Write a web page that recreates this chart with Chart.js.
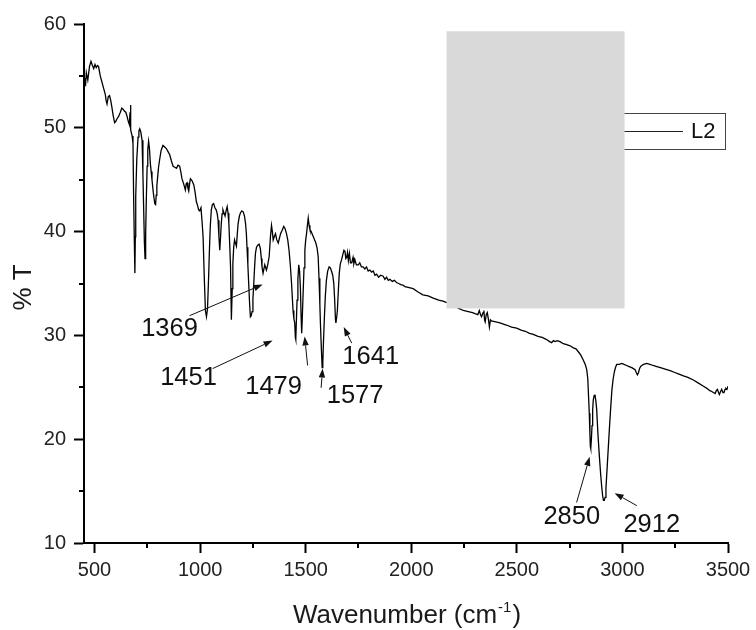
<!DOCTYPE html>
<html>
<head>
<meta charset="utf-8">
<script src="https://cdn.jsdelivr.net/npm/chart.js@4.4.1/dist/chart.umd.min.js"></script>
<style>
  html, body { margin: 0; padding: 0; background: #fff; }
  #wrap { width: 756px; height: 630px; position: relative; }
</style>
</head>
<body>
<div id="wrap"><canvas id="c"></canvas></div>
<script>
// ---- data ----
const wavenumbers = [
  453,457,461,468,476,483,490,496,502,508,514,519,527,535,543,551,555,559,565,571,577,582,588,595,600,607,614,622,629,635,642,648,654,660,665,668,670,672,678,682,685,688,691,693,695,700,706,710,714,719,725,729,733,736,739,742,745,749,752,756,760,764,768,772,778,785,789,792,795,799,803,808,815,824,830,840,848,856,864,872,880,888,895,903,909,914,922,930,934,938,942,946,950,954,962,970,976,982,988,993,998,1004,1009,1014,1019,1025,1030,1035,1040,1044,1048,1053,1058,1064,1070,1076,1081,1085,1089,1093,1097,1100,1104,1108,1113,1118,1123,1128,1132,1136,1140,1144,1148,1152,1155,1159,1163,1167,1172,1176,1180,1186,1191,1197,1204,1210,1215,1219,1222,1226,1230,1234,1238,1242,1246,1250,1254,1258,1262,1267,1273,1279,1285,1290,1293,
  1298,1306,1314,1320,1327,1333,1338,1342,1346,1351,1357,1363,1370,1376,1381,1388,1396,1402,1409,1415,1421,1427,1433,1437,1440,1444,1448,1451,1453,1456,1459,1463,1467,1471,1475,1478,1481,1484,1488,1492,1496,1500,1504,1508,1512,1516,1520,1526,1532,1540,1548,1554,1559,1563,1567,1570,1574,1578,1581,1584,1588,1593,1598,1604,1611,1617,1622,1628,1633,1637,1641,1643,1647,1650,1655,1659,1664,1670,1676,1681,1686,1690,1694,1698,1702,1707,1712,1718,1724,1728,1733,1740,1749,1756,1764,1772,1780,1788,1796,1804,1812,1820,1828,1836,1845,1855,1867,1875,1883,1891,1899,1910,1920,1930,1940,1950,1960,1970,1990,2009,2030,2055,2080,2104,2130,2150,2175,2200,2225,2246,2270,2290,2302,2315,2322,2328,2333,2340,2344,2347,2350,2355,2360,2365,2370,2375,2380,2400,2420,2450,2475,2499,2520,2540,2560,2578,2600,2620,2641,2655,2665,2673,2681,2692,2704,2720,2736,2752,2768,2780,2792,2803,2815,2824,2831,2836,2839,2843,2846,2848,2850,2853,2856,2859,2862,2866,2870,2874,2878,2884,2891,2897,2902,2906,2910,2914,2918,2922,2926,2932,2938,2944,2950,2956,2962,2967,2973,2985,2997,3008,3020,3032,3044,3052,3060,3066,3071,3076,3081,3086,3092,3100,3115,3130,3145,3163,3180,3195,3210,3226,3245,3265,3289,3310,3336,3360,3384,3400,3412,3423,3431,3439,3445,3450,3455,3459,3465,3470,3476,3481,3486,3490,3495,3500
];
const transmittance = [
  54.8,54.0,55.3,54.6,55.9,56.4,56.0,55.7,56.1,55.8,56.0,55.9,55.0,54.4,53.8,53.2,52.6,52.3,53.0,53.1,52.6,52.0,51.2,50.5,50.6,50.9,51.1,51.5,51.9,51.8,51.6,51.5,51.1,50.6,50.3,51.5,52.2,49.8,49.2,48.5,43.4,39.5,36.0,39.5,43.4,47.0,49.1,49.7,49.9,49.6,48.8,45.5,41.8,39.0,37.4,39.8,43.0,46.3,47.9,48.7,48.0,46.6,45.8,45.0,43.8,42.7,42.6,43.5,44.4,45.3,46.2,46.9,47.8,48.3,48.2,48.0,47.7,47.4,46.8,46.3,46.2,46.1,46.4,46.3,45.7,45.1,44.6,44.0,44.6,44.7,44.2,43.9,44.6,45.1,44.9,44.5,43.8,42.9,42.5,42.1,42.0,42.3,41.0,39.5,36.0,32.4,31.8,32.6,35.5,38.2,40.5,42.1,42.6,42.7,42.3,42.1,41.7,41.1,39.5,38.2,39.6,40.7,41.7,42.1,41.8,41.5,42.0,42.4,41.8,40.8,38.8,36.6,31.5,34.5,36.9,38.5,39.2,38.9,38.6,39.8,40.8,41.5,41.8,42.0,41.9,41.5,40.8,39.8,38.5,36.8,35.0,33.2,31.8,31.9,32.3,33.5,35.0,36.6,37.9,38.5,38.7,38.8,38.4,37.4,36.6,
  36.0,36.8,36.3,36.8,37.6,39.5,40.6,40.0,39.2,39.5,39.8,39.2,38.9,39.4,39.8,40.1,40.5,40.3,39.8,39.2,38.2,36.8,35.0,33.5,32.4,31.6,31.2,29.8,29.6,31.5,33.4,35.4,36.8,36.2,34.5,32.0,30.2,31.8,34.2,36.5,38.2,39.2,39.8,40.6,41.3,40.6,40.2,40.0,39.7,39.3,38.9,38.4,37.6,35.5,33.0,31.0,28.8,26.9,27.4,29.3,31.5,33.8,35.3,36.2,36.6,36.5,36.2,35.8,35.0,33.5,31.5,31.2,31.8,32.4,34.5,36.0,36.9,37.3,37.8,38.2,38.1,37.4,37.5,38.0,37.2,37.9,37.0,37.0,37.5,36.9,37.3,36.8,36.8,37.0,36.6,36.6,36.4,36.6,36.2,36.3,36.1,36.2,35.8,35.9,35.6,35.8,35.7,35.4,35.6,35.3,35.4,35.2,35.3,35.1,35.0,34.9,34.85,34.7,34.6,34.5,34.2,33.9,33.8,33.6,33.4,33.3,33.1,32.9,32.6,32.4,32.3,32.2,32.1,32.0,32.4,32.0,31.8,32.2,32.4,31.5,31.3,32.0,32.2,31.6,30.8,31.5,31.4,31.3,31.2,31.0,30.8,30.7,30.5,30.4,30.2,30.1,29.9,29.8,29.6,29.4,29.3,29.5,29.4,29.5,29.4,29.2,29.1,29.0,28.8,28.7,28.4,28.1,27.6,27.2,26.7,25.8,24.4,22.5,20.5,19.3,19.1,20.0,21.3,22.8,23.8,24.2,24.3,23.7,22.9,20.5,18.3,16.6,15.4,14.6,14.1,14.1,14.4,15.3,16.7,18.8,20.9,22.9,24.7,25.8,26.5,26.9,27.2,27.2,27.3,27.2,27.1,27.0,26.9,26.8,26.7,26.4,26.2,26.4,26.8,27.0,27.1,27.2,27.3,27.2,27.1,27.0,26.9,26.8,26.7,26.6,26.45,26.3,26.1,25.95,25.7,25.4,25.1,24.9,24.7,24.6,24.5,24.4,24.7,24.8,24.5,24.3,24.6,24.8,24.5,24.5,24.8,24.9,24.8,25.1
];
const seriesLabel = 'L2';
const xTickValues = [500, 1000, 1500, 2000, 2500, 3000, 3500];
const xMinorTickValues = [750, 1250, 1750, 2250, 2750, 3250];
const yTickValues = [10, 20, 30, 40, 50, 60];
const yMinorTickValues = [15, 25, 35, 45, 55];
const peakLabels = ['1369', '1451', '1479', '1577', '1641', '2850', '2912'];
const peakLabelAt = [[855, 30.6], [945, 25.9], [1348, 25.0], [1734, 24.2], [1808, 27.9], [2760, 12.5], [3139, 11.7]];
const arrowTail = [[950, 31.9], [1059, 26.8], [1509, 27.1], [1573, 24.95], [1718, 29.25], [2783, 13.9], [3068, 13.6]];
const arrowTip = [[1296, 34.9], [1343, 29.5], [1495, 29.9], [1580, 26.8], [1680, 30.8], [2845, 18.3], [2963, 14.8]];
const greyBox = { x0: 2167, x1: 3010, y0: 32.6, y1: 59.3 };

const FONT = '"Liberation Sans", Arial, Helvetica, sans-serif';
const points = wavenumbers.map((w, i) => ({ x: w, y: transmittance[i] }));

function drawArrow(ctx, x1, y1, x2, y2) {
  const ang = Math.atan2(y2 - y1, x2 - x1);
  const hl = 9, hw = 3.2;
  const bx = x2 - hl * Math.cos(ang), by = y2 - hl * Math.sin(ang);
  ctx.beginPath();
  ctx.moveTo(x1, y1);
  ctx.lineTo(bx, by);
  ctx.stroke();
  ctx.beginPath();
  ctx.moveTo(x2, y2);
  ctx.lineTo(bx + hw * Math.sin(ang), by - hw * Math.cos(ang));
  ctx.lineTo(bx - hw * Math.sin(ang), by + hw * Math.cos(ang));
  ctx.closePath();
  ctx.fill();
}

const overlay = {
  id: 'overlay',
  afterDatasetsDraw(chart) {
    const ctx = chart.ctx;
    const xs = chart.scales.x, ys = chart.scales.y;
    const area = chart.chartArea;
    ctx.save();
    // minor ticks
    ctx.strokeStyle = '#000';
    ctx.lineWidth = 2;
    xMinorTickValues.forEach(v => {
      const px = Math.round(xs.getPixelForValue(v));
      ctx.beginPath(); ctx.moveTo(px, area.bottom); ctx.lineTo(px, area.bottom + 5); ctx.stroke();
    });
    yMinorTickValues.forEach(v => {
      const py = Math.round(ys.getPixelForValue(v));
      ctx.beginPath(); ctx.moveTo(area.left, py); ctx.lineTo(area.left - 5, py); ctx.stroke();
    });
    // legend box
    const lgRight = area.right - 3, lgTop = ys.getPixelForValue(51.4), lgBottom = ys.getPixelForValue(47.9);
    const lgLeft = xs.getPixelForValue(greyBox.x1) - 20;
    ctx.fillStyle = '#fff';
    ctx.fillRect(lgLeft, lgTop, lgRight - lgLeft, lgBottom - lgTop);
    ctx.strokeStyle = '#444';
    ctx.lineWidth = 1;
    ctx.strokeRect(Math.round(lgLeft) + 0.5, Math.round(lgTop) + 0.5, Math.round(lgRight - lgLeft), Math.round(lgBottom - lgTop));
    const lgMid = (lgTop + lgBottom) / 2;
    ctx.strokeStyle = '#222';
    ctx.beginPath(); ctx.moveTo(lgLeft, Math.round(lgMid) + 0.5); ctx.lineTo(lgRight - 42, Math.round(lgMid) + 0.5); ctx.stroke();
    ctx.fillStyle = '#111';
    ctx.font = '22px ' + FONT;
    ctx.textAlign = 'left';
    ctx.textBaseline = 'middle';
    ctx.fillText(chart.data.datasets[0].label, lgRight - 34, lgMid + 1);
    // grey box
    const gx0 = xs.getPixelForValue(greyBox.x0), gx1 = xs.getPixelForValue(greyBox.x1);
    const gy0 = ys.getPixelForValue(greyBox.y1), gy1 = ys.getPixelForValue(greyBox.y0);
    ctx.fillStyle = '#d9d9d9';
    ctx.fillRect(gx0, gy0, gx1 - gx0, gy1 - gy0);
    // peak annotations
    ctx.fillStyle = '#111';
    ctx.strokeStyle = '#111';
    ctx.lineWidth = 1;
    ctx.font = '25.5px ' + FONT;
    ctx.textAlign = 'center';
    ctx.textBaseline = 'middle';
    peakLabels.forEach((t, i) => {
      ctx.fillText(t, xs.getPixelForValue(peakLabelAt[i][0]), ys.getPixelForValue(peakLabelAt[i][1]));
      drawArrow(ctx, xs.getPixelForValue(arrowTail[i][0]), ys.getPixelForValue(arrowTail[i][1]),
                xs.getPixelForValue(arrowTip[i][0]), ys.getPixelForValue(arrowTip[i][1]));
    });
    // axis titles
    ctx.fillStyle = '#1a1a1a';
    const cx = (area.left + area.right) / 2;
    const mainF = '26px ' + FONT, supF = '15px ' + FONT;
    const p1 = 'Wavenumber (cm', p2 = '-1', p3 = ')';
    ctx.font = mainF; const w1 = ctx.measureText(p1).width, w3 = ctx.measureText(p3).width;
    ctx.font = supF; const w2 = ctx.measureText(p2).width;
    let sx = cx - (w1 + w2 + w3) / 2;
    const base = 623;
    ctx.textAlign = 'left';
    ctx.textBaseline = 'alphabetic';
    ctx.font = mainF; ctx.fillText(p1, sx, base); sx += w1;
    ctx.font = supF; ctx.fillText(p2, sx + 1, base - 11); sx += w2 + 2;
    ctx.font = mainF; ctx.fillText(p3, sx, base);
    ctx.save();
    ctx.translate(24, (area.top + area.bottom) / 2 + 4);
    ctx.rotate(-Math.PI / 2);
    ctx.font = mainF;
    ctx.textAlign = 'center';
    ctx.textBaseline = 'middle';
    ctx.fillText('% T', 0, 0);
    ctx.restore();
    ctx.restore();
  }
};

new Chart(document.getElementById('c'), {
  type: 'line',
  data: {
    datasets: [{
      label: seriesLabel,
      data: points,
      borderColor: '#000',
      borderWidth: 1.3,
      pointRadius: 0,
      tension: 0,
      fill: false
    }]
  },
  options: {
    responsive: true,
    maintainAspectRatio: false,
    animation: false,
    parsing: false,
    normalized: true,
    layout: { padding: { top: 24, right: 28, left: 0, bottom: 0 } },
    plugins: { legend: { display: false }, tooltip: { enabled: false } },
    scales: {
      x: {
        type: 'linear',
        min: 450, max: 3500,
        afterBuildTicks: s => { s.ticks = xTickValues.map(v => ({ value: v })); },
        afterFit: s => { s.height = 87; },
        ticks: { font: { size: 20, family: FONT }, color: '#222', padding: 5, maxRotation: 0, autoSkip: false,
                 callback: v => String(v) },
        grid: { drawOnChartArea: false, drawTicks: true, tickLength: 10, tickWidth: 2, tickColor: '#000' },
        border: { display: true, color: '#000', width: 2 }
      },
      y: {
        min: 10, max: 60,
        afterBuildTicks: s => { s.ticks = yTickValues.map(v => ({ value: v })); },
        afterFit: s => { s.width = 84; },
        ticks: { font: { size: 20, family: FONT }, color: '#222', padding: 8, autoSkip: false,
                 callback: v => String(v) },
        grid: { drawOnChartArea: false, drawTicks: true, tickLength: 10, tickWidth: 2, tickColor: '#000' },
        border: { display: true, color: '#000', width: 2 }
      }
    }
  },
  plugins: [overlay]
});
</script>
</body>
</html>
